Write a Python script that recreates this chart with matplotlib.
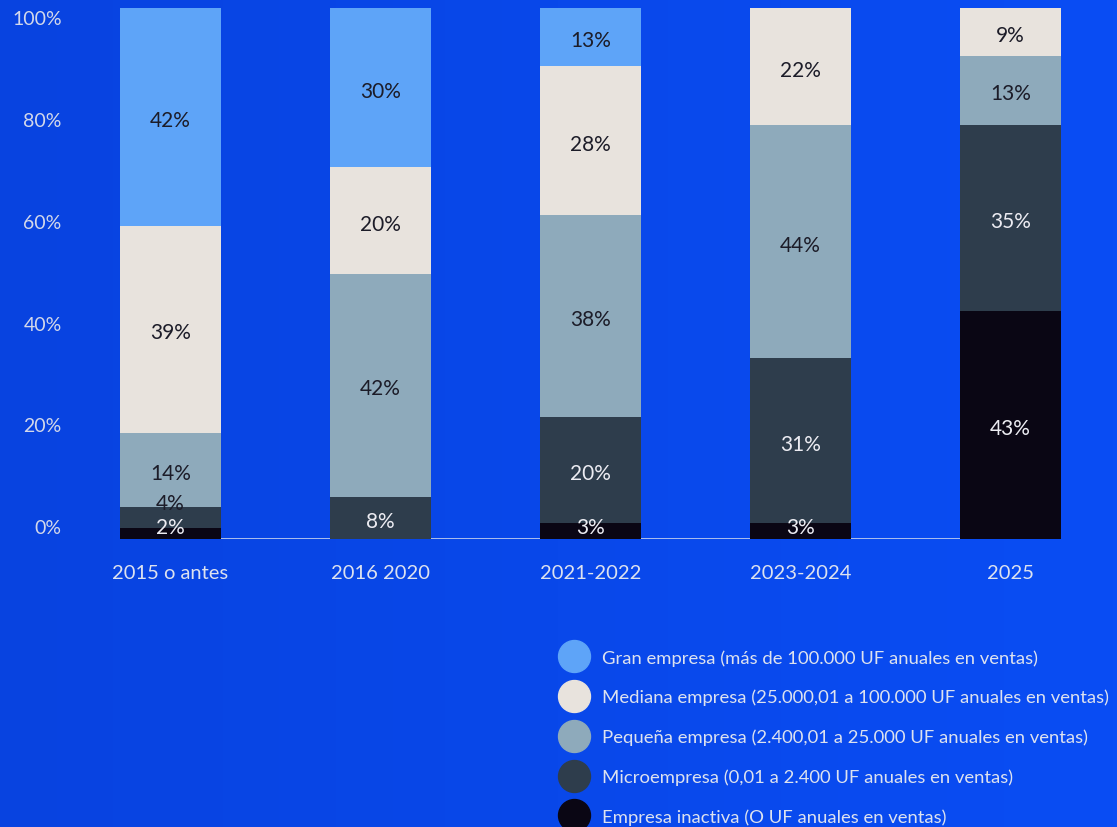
import numpy as np
import matplotlib.pyplot as plt
from matplotlib.lines import Line2D
from matplotlib.colors import LinearSegmentedColormap

plt.rcParams['font.family'] = ['Lato', 'DejaVu Sans']

periods = ["2015 o antes", "2016 2020", "2021-2022", "2023-2024", "2025"]

# shares per company size, in %, bottom to top of each bar
inactiva = [2, 0, 3, 3, 43]
micro = [4, 8, 20, 31, 35]
pequena = [14, 42, 38, 44, 13]
mediana = [39, 20, 28, 22, 9]
gran = [42, 30, 13, 0, 0]

series = [inactiva, micro, pequena, mediana, gran]
names = [
    "Empresa inactiva (O UF anuales en ventas)",
    "Microempresa (0,01 a 2.400 UF anuales en ventas)",
    "Pequeña empresa (2.400,01 a 25.000 UF anuales en ventas)",
    "Mediana empresa (25.000,01 a 100.000 UF anuales en ventas)",
    "Gran empresa (más de 100.000 UF anuales en ventas)",
]
colors = ["#0a0614", "#2e3d4c", "#8eaabb", "#e8e3dd", "#5ea4f8"]
text_on = ["#ececf2", "#ececf2", "#1c1c28", "#1c1c28", "#1c1c28"]

ytick_labels = ["0%", "20%", "40%", "60%", "80%", "100%"]

fig = plt.figure(figsize=(11.17, 8.28), dpi=100)

# blue background, slightly lighter to the right
bg = fig.add_axes([0, 0, 1, 1], zorder=-10)
grad = LinearSegmentedColormap.from_list("bg", ["#0843e0", "#0a4df4"])
bg.imshow(np.linspace(0, 1, 256)[None, :], aspect="auto", cmap=grad,
          extent=[0, 1, 0, 1])
bg.axis("off")

ax = fig.add_axes([120 / 1117, 1 - 540 / 828, 941 / 1117, 531 / 828])
ax.set_facecolor("none")

x = np.arange(len(periods))
width = 0.48
bottom = np.zeros(len(periods))
for vals, col in zip(series, colors):
    ax.bar(x, vals, width, bottom=bottom, color=col, zorder=2)
    bottom += np.array(vals)

# value labels, nudged up so the thin segments don't collide
for i in range(len(periods)):
    base = 0
    prev_y = -10
    for k, vals in enumerate(series):
        v = vals[i]
        if v == 0:
            continue
        y = max(base + v / 2, 2.8, prev_y + 4.5)
        if base + v > 100:
            y = min(y, (base + 100) / 2)
        # pick text colour from the segment the label ends up on
        acc = 0
        seg = k
        for kk, vv in enumerate(series):
            if acc <= y < acc + vv[i]:
                seg = kk
                break
            acc += vv[i]
        ax.text(x[i], y - 0.6, f"{v}%", ha="center", va="center",
                fontsize=15, color=text_on[seg], zorder=3)
        prev_y = y
        base += v

ax.axhline(0, color="#c9d3ee", lw=1.2, zorder=1)

ax.set_xlim(-0.24, 4.24)
ax.set_ylim(0, 100)
ax.set_xticks(x)
ax.set_xticklabels(periods, fontsize=14.5, color="#dde2ef")
ax.set_yticks(np.linspace(2.4, 98.3, 6))
ax.set_yticklabels(ytick_labels, fontsize=14, color="#d3d8ea")
ax.tick_params(axis="both", length=0)
ax.tick_params(axis="x", pad=18)
ax.tick_params(axis="y", pad=42)
for s in ax.spines.values():
    s.set_visible(False)

handles = [Line2D([], [], marker="o", ls="none", markersize=23,
                  markerfacecolor=c, markeredgecolor=c)
           for c in colors[::-1]]
leg = fig.legend(handles, names[::-1], loc="upper left",
                 bbox_to_anchor=(563 / 1117, 1 - 650 / 828),
                 frameon=False, fontsize=13.3, labelcolor="#dde2ef",
                 handlelength=1.2, handletextpad=0.89, labelspacing=1.26,
                 borderaxespad=0, borderpad=0)

fig.savefig("out.png", dpi=100)
